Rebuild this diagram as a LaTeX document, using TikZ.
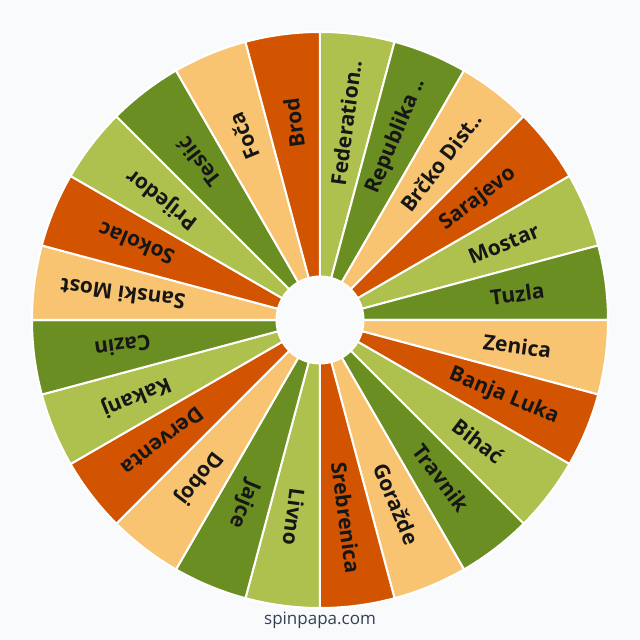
\documentclass[tikz,border=0pt]{standalone}
\usepackage{fontspec}
\setmainfont{Open Sans}
\definecolor{wheelBg}{HTML}{F8FAFC}
\definecolor{wheelLG}{HTML}{AEC14F}
\definecolor{wheelDG}{HTML}{6B8E23}
\definecolor{wheelLO}{HTML}{F8C471}
\definecolor{wheelDO}{HTML}{D35400}
\definecolor{wheelText}{HTML}{161616}
\definecolor{wheelFoot}{HTML}{334155}
\tikzset{
    slice/.style={
        draw=white,
        line width=2pt,
        line join=round},
    slicetext/.style={
        font=\bfseries\fontsize{21}{25}\selectfont,
        text=wheelText,
        inner sep=0pt},
    hub/.style={
        circle,
        fill=wheelBg,
        draw=white,
        line width=2pt,
        minimum size=87pt,
        inner sep=0pt}}

\begin{document}
\begin{tikzpicture}[x=1pt,y=1pt]
        \fill[wheelBg] (-320,-320) rectangle (320,320);
        \useasboundingbox (-320,-320) rectangle (320,320);

        % slices, clockwise from the top
        \foreach \nm/\col [count=\i from 0] in {
            Federation../wheelLG, Republika ../wheelDG, Brčko Dist../wheelLO, Sarajevo/wheelDO,
            Mostar/wheelLG, Tuzla/wheelDG, Zenica/wheelLO, Banja Luka/wheelDO,
            Bihać/wheelLG, Travnik/wheelDG, Goražde/wheelLO, Srebrenica/wheelDO,
            Livno/wheelLG, Jajce/wheelDG, Doboj/wheelLO, Derventa/wheelDO,
            Kakanj/wheelLG, Cazin/wheelDG, Sanski Most/wheelLO, Sokolac/wheelDO,
            Prijedor/wheelLG, Teslić/wheelDG, Foča/wheelLO, Brod/wheelDO}{
            \pgfmathsetmacro\sa{90-15*\i}
            \pgfmathsetmacro\eb{75-15*\i}
            \pgfmathsetmacro\md{82.5-15*\i}
            \draw[slice, fill=\col] (0,0) -- (\sa:288) arc[start angle=\sa, end angle=\eb, radius=288] -- cycle;
            \node[slicetext, rotate=\md] (lbl\i) at (\md:199) {\nm};
        }

        \node[hub] (hub) at (0,0) {};

        \node[font=\fontsize{17}{20}\selectfont, text=wheelFoot] (site) at (0,-300) {spinpapa.com};
    \end{tikzpicture}
\end{document}
